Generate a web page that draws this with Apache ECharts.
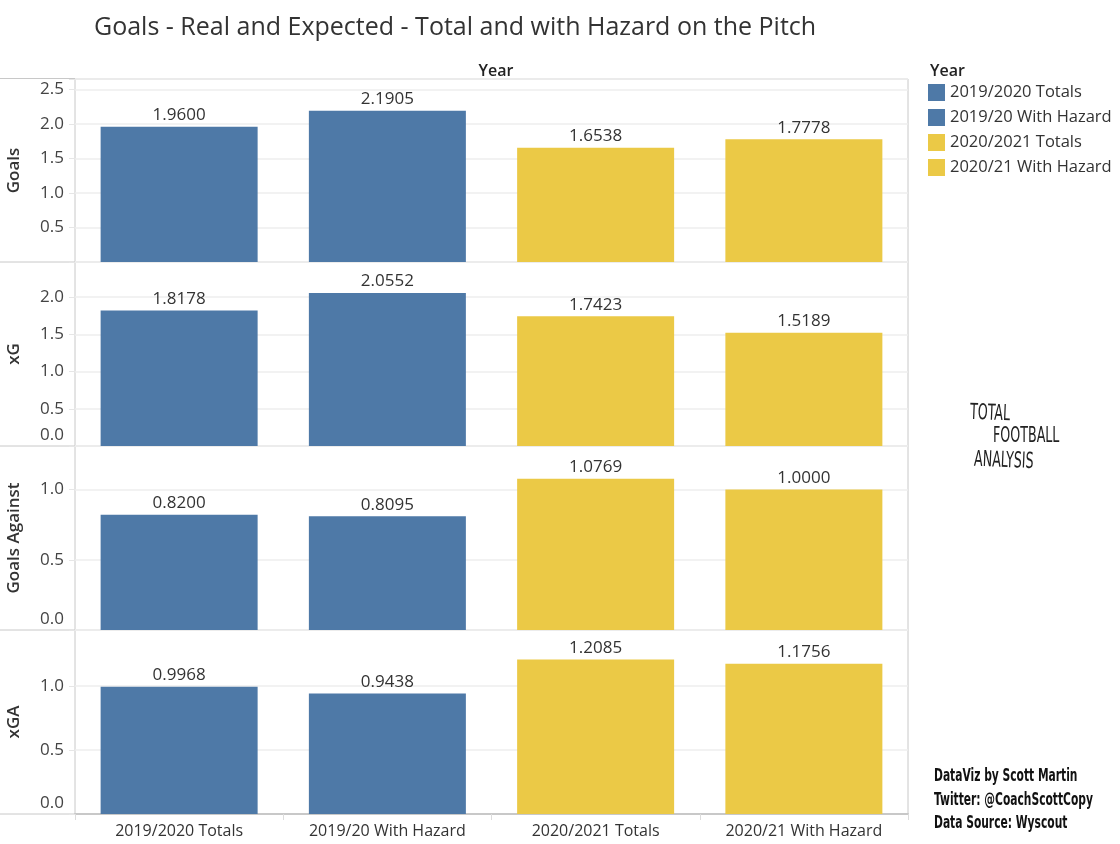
<!DOCTYPE html>
<html><head><meta charset="utf-8">
<script src="https://cdn.jsdelivr.net/npm/echarts@6/dist/echarts.min.js"></script>
<style>html,body{margin:0;padding:0;background:#fff}#c{width:1120px;height:844px}</style>
</head><body><div id="c"></div>
<script>
// ---- data ----
const categories = ['2019/2020 Totals', '2019/20 With Hazard', '2020/2021 Totals', '2020/21 With Hazard'];
const goals = [1.9600, 2.1905, 1.6538, 1.7778];
const xg = [1.8178, 2.0552, 1.7423, 1.5189];
const goalsAgainst = [0.8200, 0.8095, 1.0769, 1.0000];
const xga = [0.9968, 0.9438, 1.2085, 1.1756];
const measureNames = ['Goals', 'xG', 'Goals Against', 'xGA'];
const measureValues = [goals, xg, goalsAgainst, xga];
const axisMax = [2.65, 2.47, 1.31, 1.44];

// ---- style ----
const colors = ['#4e79a7', '#4e79a7', '#ebc946', '#ebc946'];
const FONT = '"Open Sans", sans-serif';
const tops = [79, 262, 446, 630];
const heights = [183, 184, 184, 184];
const LEFT = 75, RIGHT = 1120 - 908;

const grids = [], xAxes = [], yAxes = [], series = [];
measureNames.forEach((m, p) => {
  const last = p === measureNames.length - 1;
  grids.push({ left: LEFT, right: RIGHT, top: tops[p], height: heights[p], show: true,
    borderColor: '#c8c8c8', borderWidth: 1, backgroundColor: 'transparent', containLabel: false,
    outerBoundsMode: 'none' });
  xAxes.push({ type: 'category', gridIndex: p, data: categories,
    axisLine: { show: last, lineStyle: { color: '#c8c8c8', width: 2 } },
    axisTick: { show: last, interval: 0, length: 6, lineStyle: { color: '#dcdcdc' } },
    axisLabel: { show: last, interval: 0, fontFamily: FONT, fontSize: 16, color: '#333', margin: 9 } });
  const hideZero = p === 0;
  yAxes.push({ type: 'value', gridIndex: p, min: 0, max: axisMax[p], interval: 0.5,
    name: m, nameLocation: 'middle', nameRotate: 90, nameGap: 52,
    nameTextStyle: { fontFamily: FONT, fontSize: 17, fontWeight: 600, color: '#333' },
    axisLine: { show: false },
    axisTick: { show: true, length: 6, lineStyle: { color: '#e6e6e6' } },
    splitLine: { show: true, lineStyle: { color: '#eeeeee', width: 1.5 } },
    axisLabel: { fontFamily: FONT, fontSize: 17, color: '#444', margin: 11, lineHeight: 21,
      formatter: v => {
        if (Math.abs(v * 2 - Math.round(v * 2)) > 1e-6) return '';
        if (v === 0) return hideZero ? '' : '0.0\n ';
        return v.toFixed(1);
      } } });
  categories.forEach((c, ci) => {
    series.push({ type: 'bar', name: c, xAxisIndex: p, yAxisIndex: p, stack: 'p' + p,
      barWidth: 157,
      itemStyle: { color: colors[ci] },
      label: { show: true, position: 'top', distance: 3, fontFamily: FONT, fontSize: 17, color: '#333',
        formatter: d => Number(d.value).toFixed(4) },
      data: measureValues[p].map((v, i) => i === ci ? v : '-') });
  });
});

const hLines = [78.5, 262, 446, 630, 814].map(y => ({ type: 'line', shape: { x1: 0, y1: y, x2: LEFT, y2: y },
  style: { stroke: '#c8c8c8', lineWidth: 1 } }));

const logoFont = '22px "DejaVu Sans Condensed", sans-serif';
const creditFont = 'bold 17px "DejaVu Sans Condensed", sans-serif';
function txt(text, x, y, font, sx, fill, rot) {
  return { type: 'text', x: x, y: y, scaleX: sx, rotation: rot || 0,
    style: { text: text, font: font, fill: fill, verticalAlign: 'middle', align: 'left' } };
}

const chart = echarts.init(document.getElementById('c'), null, { renderer: 'canvas' });
chart.setOption({
  animation: false,
  title: [
    { text: 'Goals - Real and Expected - Total and with Hazard on the Pitch', left: 89, top: 10,
      textStyle: { fontFamily: FONT, fontSize: 25, fontWeight: 'normal', color: '#333' } },
    { text: 'Year', left: 491, top: 58, textAlign: 'center',
      textStyle: { fontFamily: FONT, fontSize: 16, fontWeight: 600, color: '#222' } },
    { text: 'Year', left: 925, top: 58,
      textStyle: { fontFamily: FONT, fontSize: 16, fontWeight: 600, color: '#222' } }
  ],
  legend: { orient: 'vertical', left: 928, top: 84, padding: 0, itemWidth: 17, itemHeight: 17, itemGap: 8,
    icon: 'rect', data: categories, selectedMode: false,
    textStyle: { fontFamily: FONT, fontSize: 16.5, lineHeight: 17, color: '#333' } },
  grid: grids, xAxis: xAxes, yAxis: yAxes, series: series,
  graphic: hLines.concat([
    txt('TOTAL', 970, 413, logoFont, 0.64, '#222', -0.04),
    txt('FOOTBALL', 993, 436, logoFont, 0.64, '#222'),
    txt('ANALYSIS', 974, 460, logoFont, 0.64, '#222', -0.04),
    txt('DataViz by Scott Martin', 934, 777, creditFont, 0.7, '#111'),
    txt('Twitter: @CoachScottCopy', 934, 801, creditFont, 0.7, '#111'),
    txt('Data Source: Wyscout', 934, 824, creditFont, 0.7, '#111')
  ])
});
</script></body></html>
